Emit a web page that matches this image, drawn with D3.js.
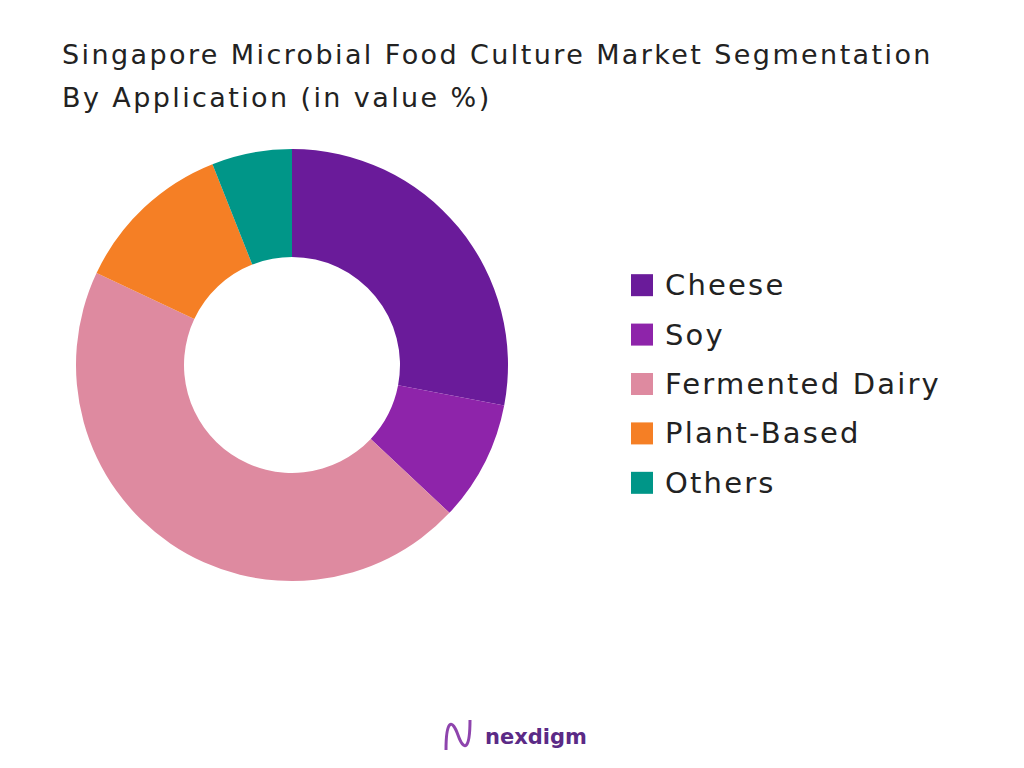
<!DOCTYPE html>
<html><head><meta charset="utf-8">
<script src="https://cdn.jsdelivr.net/npm/d3@7"></script>
<style>body{margin:0;background:#fff;font-family:"DejaVu Sans",sans-serif;}</style>
</head><body><div id="chart"></div>
<script>
const categories = ["Cheese", "Soy", "Fermented Dairy", "Plant-Based", "Others"];
const values = [28, 9, 45, 12, 6];
const colors = ["#6a1b9a", "#8e24aa", "#de8aa0", "#f57f25", "#009688"];

const width = 1024, height = 768;
const svg = d3.select("#chart").append("svg")
    .attr("width", width).attr("height", height);

svg.append("text").attr("x", 62).attr("y", 64)
    .style("font-size", "27px").style("letter-spacing", "2.4px").style("fill", "#222")
    .text("Singapore Microbial Food Culture Market Segmentation");
svg.append("text").attr("x", 62).attr("y", 107)
    .style("font-size", "27px").style("letter-spacing", "2.4px").style("fill", "#222")
    .text("By Application (in value %)");

let pie = d3.pie().sort(null).value(d => d);
let arc = d3.arc().innerRadius(108).outerRadius(216);
let g = svg.append("g").attr("transform", "translate(292,365)");
g.selectAll("path").data(pie(values)).enter().append("path")
    .attr("d", arc)
    .attr("fill", (d, i) => colors[i]);

// legend
let y = d3.scaleBand().domain(categories).range([258, 510]).padding(0.1);
let leg = svg.append("g");
leg.selectAll("rect").data(categories).enter().append("rect")
    .attr("x", 631).attr("y", d => y(d) + y.bandwidth() / 2 - 11)
    .attr("width", 22).attr("height", 22)
    .attr("fill", (d, i) => colors[i]);
leg.selectAll("text").data(categories).enter().append("text")
    .attr("x", 665).attr("y", d => y(d) + y.bandwidth() / 2 + 10)
    .style("font-size", "29px").style("letter-spacing", "2.2px").style("fill", "#222")
    .text(d => d);

// logo
svg.append("text").attr("x", 485).attr("y", 744)
    .style("font-size", "21px").style("font-weight", "bold").style("fill", "#5b2a86")
    .text("nexdigm");
svg.append("path")
    .attr("d", "M446,750 C446,720 452,718 458,735 C464,752 470,750 470,720")
    .attr("fill", "none").attr("stroke", "#8e44ad").attr("stroke-width", 3);
</script></body></html>
